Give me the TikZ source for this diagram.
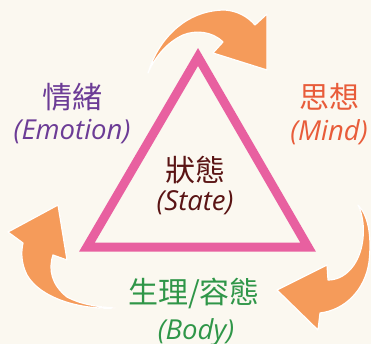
\documentclass[tikz,border=0pt]{standalone}
\usepackage{fontspec}
\setmainfont{Open Sans}
\newfontfamily\cjk{Noto Sans CJK TC}
\definecolor{bgc}{RGB}{251,248,240}
\definecolor{arrowc}{RGB}{245,155,90}
\definecolor{pinkc}{RGB}{232,96,160}
\definecolor{purplec}{RGB}{108,60,150}
\definecolor{redc}{RGB}{232,92,58}
\definecolor{brownc}{RGB}{90,20,20}
\definecolor{greenc}{RGB}{47,150,72}
\tikzset{
  cyc/.style={fill=arrowc, draw=white, line width=1.2pt, line join=round},
  cjklabel/.style={inner sep=0pt, font=\cjk\fontsize{30}{32}\selectfont},
  enlabel/.style={inner sep=0pt, font=\itshape\fontsize{27.5}{30}\selectfont},
}
\begin{document}
\begin{tikzpicture}[x=1pt,y=-1pt]
\useasboundingbox (0,0) rectangle (371,344);
\fill[bgc] (0,0) rectangle (371,344);
% triangle
\draw[pinkc, line width=9pt, line join=miter] (198,57) -- (308,247) -- (87,247) -- cycle;
% top arrow
\draw[cyc] (148,73) .. controls (158,40) and (185,10) .. (225,10)
  .. controls (238,11) and (248,17) .. (255,25)
  -- (267,14) -- (267,70) -- (213,53) -- (223,42)
  .. controls (212,31) and (195,30) .. (183,35)
  .. controls (168,42) and (156,55) .. (148,73) -- cycle;
% right arrow
\draw[cyc] (358,205) .. controls (368,215) and (372,235) .. (369,262)
  .. controls (365,290) and (345,310) .. (320,313)
  -- (318,330) -- (277,290) -- (327,265) -- (328,280)
  .. controls (345,280) and (358,265) .. (362,245)
  .. controls (365,230) and (363,215) .. (358,205) -- cycle;
% left arrow
\draw[cyc] (115,308) .. controls (80,310) and (40,298) .. (27,275)
  .. controls (21,263) and (21,252) .. (23,243)
  -- (8,232) -- (58,205) -- (67,260) -- (53,255)
  .. controls (48,270) and (52,285) .. (67,297)
  .. controls (80,304) and (97,307) .. (115,308) -- cycle;
% labels
\node[cjklabel, text=purplec] (emo) at (72,97) {情緒};
\node[enlabel, text=purplec] (emoen) at (72,132) {(Emotion)};
\node[cjklabel, text=redc] (mind) at (329,97) {思想};
\node[enlabel, text=redc] (minden) at (329,132) {(Mind)};
\node[cjklabel, text=brownc] (state) at (195,170) {狀態};
\node[enlabel, text=brownc] (stateen) at (195,203) {(State)};
\node[cjklabel, text=greenc] (body) at (194,293) {生理/容態};
\node[enlabel, text=greenc] (bodyen) at (196,332) {(Body)};
\end{tikzpicture}
\end{document}
